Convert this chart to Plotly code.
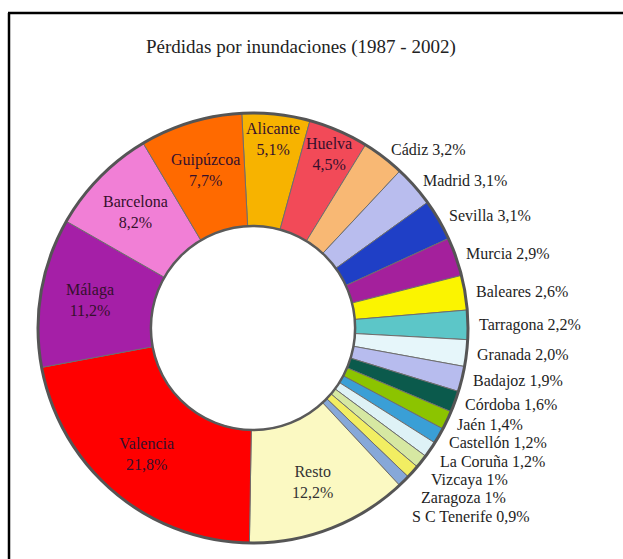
import math
import plotly.graph_objects as go

# Flood losses by province, clockwise from the top of the ring (percent of total)
provincias = [
    "Alicante", "Huelva", "Cádiz", "Madrid", "Sevilla", "Murcia", "Baleares",
    "Tarragona", "Granada", "Badajoz", "Córdoba", "Jaén", "Castellón",
    "La Coruña", "Vizcaya", "Zaragoza", "S C Tenerife", "Resto", "Valencia",
    "Málaga", "Barcelona", "Guipúzcoa",
]
perdidas = [
    5.1, 4.5, 3.2, 3.1, 3.1, 2.9, 2.6,
    2.2, 2.0, 1.9, 1.6, 1.4, 1.2,
    1.2, 1.0, 1.0, 0.9, 12.2, 21.8,
    11.2, 8.2, 7.7,
]
colores = [
    "#f7b300", "#f24a58", "#f8b874", "#b9bdee", "#1f3fc6", "#a4209c", "#fbf400",
    "#5cc6c8", "#e6f6fa", "#b7bcee", "#0b5a4c", "#8cc400", "#3a9fd6",
    "#def2f6", "#d6e8a2", "#f2ee62", "#86a8d8", "#fbf9c2", "#ff0000",
    "#a51fa7", "#f17fd6", "#ff6a00",
]
sin_decimal = {"Vizcaya", "Zaragoza"}

titulo = "Pérdidas por inundaciones (1987 - 2002)"

W, H = 623, 559
CX, CY, R = 253, 328, 215          # ring centre and outer radius (px)
HOLE = 0.475
ROT = -3                            # start angle of the first slice (deg)
SERIF = "Liberation Serif, Times New Roman, serif"
MIN_GAP = 18.5                      # vertical spacing of stacked outer labels (px)


def px(x):
    return x / W


def py(y):
    return 1 - y / H


def fmt(nombre, v):
    if nombre in sin_decimal:
        return f"{v:.0f}%"
    return f"{v:.1f}".replace(".", ",") + "%"


fig = go.Figure(
    go.Pie(
        labels=provincias,
        values=perdidas,
        sort=False,
        direction="clockwise",
        rotation=ROT,
        hole=HOLE,
        textinfo="none",
        marker=dict(colors=colores, line=dict(color="#6e6e6e", width=1)),
        domain=dict(x=[px(CX - R), px(CX + R)], y=[py(CY + R), py(CY - R)]),
        hoverinfo="label+percent",
    )
)

# Slice labels placed from each slice's mid angle
total = sum(perdidas)
acum = 0.0
annotations = []
prev_y = None
for nombre, v in zip(provincias, perdidas):
    mid = (acum + v / 2) / total * 360 + ROT
    acum += v
    a = math.radians(mid)
    if v >= 4:
        r = 190 if v < 6 else 165
        x = CX + r * math.sin(a)
        y = CY - r * math.cos(a)
        annotations.append(dict(
            x=px(x), y=py(y), xref="paper", yref="paper",
            text=f"{nombre}<br>{fmt(nombre, v)}", showarrow=False,
            xanchor="center", yanchor="middle",
            font=dict(family=SERIF, size=16,
                      color="#333333" if nombre == "Resto" else "#35102c"),
        ))
    else:
        r = 224
        x = CX + r * math.sin(a)
        y = CY - r * math.cos(a)
        if prev_y is not None and y < prev_y + MIN_GAP:
            y = prev_y + MIN_GAP
        prev_y = y
        annotations.append(dict(
            x=px(x), y=py(y), xref="paper", yref="paper",
            text=f"{nombre} {fmt(nombre, v)}", showarrow=False,
            xanchor="left", yanchor="middle",
            font=dict(family=SERIF, size=16, color="#1e1e1e"),
        ))

annotations.append(dict(
    x=px(301), y=py(47), xref="paper", yref="paper", text=titulo,
    showarrow=False, xanchor="center", yanchor="middle",
    font=dict(family=SERIF, size=19, color="#222222"),
))

shapes = [
    # outer and inner edges of the ring
    dict(type="circle", xref="paper", yref="paper",
         x0=px(CX - R), x1=px(CX + R), y0=py(CY + R), y1=py(CY - R),
         line=dict(color="#555555", width=3)),
    dict(type="circle", xref="paper", yref="paper",
         x0=px(CX - R * HOLE), x1=px(CX + R * HOLE),
         y0=py(CY + R * HOLE), y1=py(CY - R * HOLE),
         line=dict(color="#5a5a5a", width=2.5)),
    # frame
    dict(type="line", xref="paper", yref="paper",
         x0=px(8), x1=1.0, y0=py(13), y1=py(13),
         line=dict(color="black", width=2.5)),
    dict(type="line", xref="paper", yref="paper",
         x0=px(9), x1=px(9), y0=py(13), y1=0.0,
         line=dict(color="black", width=2.5)),
]

fig.update_layout(
    width=W, height=H,
    margin=dict(l=0, r=0, t=0, b=0),
    paper_bgcolor="white", plot_bgcolor="white",
    showlegend=False,
    annotations=annotations,
    shapes=shapes,
)

fig.write_html("out.html")
